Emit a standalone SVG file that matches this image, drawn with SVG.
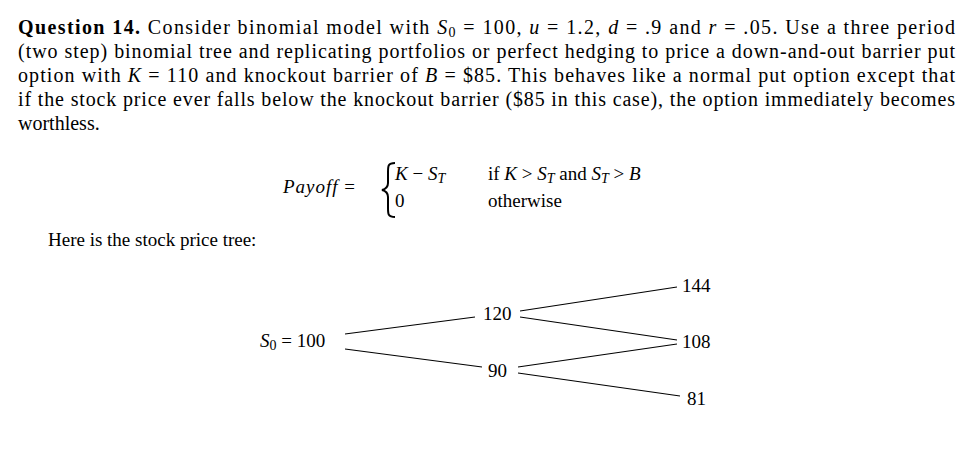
<svg xmlns="http://www.w3.org/2000/svg" width="965" height="459" viewBox="0 0 965 459">
<style>
text{font-family:"Liberation Serif","DejaVu Serif",serif;font-size:19px;fill:#000}
.p{font-size:20px}
.i{font-style:italic}
.c line{stroke:#000;stroke-width:1.1}
</style>
<rect width="965" height="459" fill="#fff"/>
<g id="question">
<text class="p" x="18" y="34" textLength="937" lengthAdjust="spacing"><tspan font-weight="bold">Question 14.</tspan> Consider binomial model with <tspan class="i">S</tspan><tspan font-size="14" dy="3">0</tspan><tspan dy="-3"> = 100, </tspan><tspan class="i">u</tspan> = 1.2, <tspan class="i">d</tspan> = .9 and <tspan class="i">r</tspan> = .05. Use a three period</text>
<text class="p" x="18" y="58" textLength="937" lengthAdjust="spacing">(two step) binomial tree and replicating portfolios or perfect hedging to price a down-and-out barrier put</text>
<text class="p" x="18" y="82" textLength="937" lengthAdjust="spacing">option with <tspan class="i">K</tspan> = 110 and knockout barrier of <tspan class="i">B</tspan> = $85. This behaves like a normal put option except that</text>
<text class="p" x="18" y="106" textLength="937" lengthAdjust="spacing">if the stock price ever falls below the knockout barrier ($85 in this case), the option immediately becomes</text>
<text class="p" x="18" y="130">worthless.</text>
</g>
<g id="payoff">
<text x="283" y="193" class="i" letter-spacing="1">Payoff <tspan font-style="normal">=</tspan></text>
<path d="M395,163 C388,163 388,166 388,172 L388,183 C388,187 386,189 382,190 C386,191 388,193 388,197 L388,208 C388,214 388,217 395,217" fill="none" stroke="#000" stroke-width="2"/>
<text x="395" y="180"><tspan class="i">K</tspan> − <tspan class="i">S</tspan><tspan class="i" font-size="14" dy="3">T</tspan></text>
<text x="488" y="180">if <tspan class="i">K</tspan> &gt; <tspan class="i">S</tspan><tspan class="i" font-size="14" dy="3">T</tspan><tspan dy="-3"> and </tspan><tspan class="i">S</tspan><tspan class="i" font-size="14" dy="3">T</tspan><tspan dy="-3"> &gt; </tspan><tspan class="i">B</tspan></text>
<text x="395" y="207">0</text>
<text x="488" y="207">otherwise</text>
</g>
<text x="48" y="246">Here is the stock price tree:</text>
<g id="n0"><text x="260" y="347"><tspan class="i">S</tspan><tspan font-size="14" dy="3">0</tspan><tspan dy="-3"> = 100</tspan></text></g>
<g id="n120"><text x="483" y="320">120</text></g>
<g id="n90"><text x="488" y="377">90</text></g>
<g id="n144"><text x="682" y="292">144</text></g>
<g id="n108"><text x="682" y="348">108</text></g>
<g id="n81"><text x="687" y="405">81</text></g>
<g class="c" id="connectors">
<line x1="345" y1="334" x2="475" y2="317"/>
<line x1="345" y1="349" x2="482" y2="367"/>
<line x1="520" y1="311" x2="677" y2="287"/>
<line x1="520" y1="317" x2="677" y2="340"/>
<line x1="518" y1="367" x2="677" y2="344"/>
<line x1="518" y1="373" x2="680" y2="396"/>
</g>
</svg>
